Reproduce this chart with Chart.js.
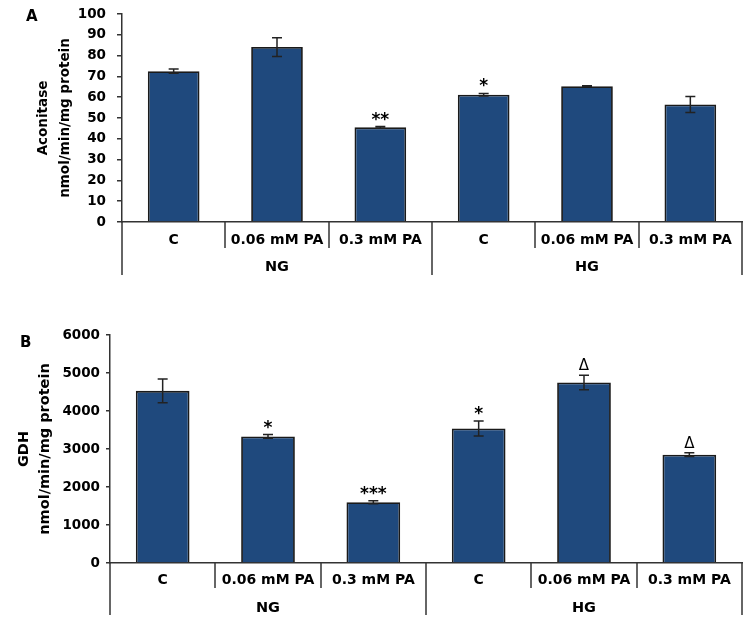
<!DOCTYPE html>
<html>
<head>
<meta charset="utf-8">
<script src="https://cdn.jsdelivr.net/npm/chart.js@4.4.1/dist/chart.umd.min.js"></script>
<style>
  body { margin: 0; background: #fff; }
  #wrap { position: relative; width: 750px; height: 626px; }
  .panel { position: absolute; left: 0; width: 750px; }
  .tag { position: absolute; font: bold 15px "DejaVu Sans"; line-height: 15px; color: #000; }
</style>
</head>
<body>
<div id="wrap">
  <div class="panel" style="top:0;height:305px"><canvas id="chartA"></canvas></div>
  <div class="panel" style="top:305px;height:321px"><canvas id="chartB"></canvas></div>
  <div class="tag" style="left:26px;top:9px">A</div>
  <div class="tag" style="left:20px;top:335px">B</div>
</div>
<script>
const categories = ["C", "0.06 mM PA", "0.3 mM PA", "C", "0.06 mM PA", "0.3 mM PA"];
const groups = ["NG", "HG"];

const aconitase = [72.5, 84.1, 45.5, 61.2, 65.3, 56.5];
const aconitaseErr = [1.0, 4.5, 0.4, 0.6, 0.2, 3.8];
const aconitaseSig = ["", "", "**", "*", "", ""];

const gdh = [4530, 3330, 1600, 3540, 4750, 2850];
const gdhErr = [310, 50, 40, 200, 190, 50];
const gdhSig = ["", "*", "***", "*", "Δ", "Δ"];

Chart.defaults.font.family = "DejaVu Sans";
Chart.defaults.color = "#000";

// dividers under the axis, group names, error bars and significance marks
const extras = {
  id: "extras",
  afterDraw(chart, args, o) {
    const { ctx, chartArea: ca, scales: { x, y } } = chart;
    const w = (x.right - x.left) / categories.length;
    ctx.save();
    ctx.strokeStyle = "#333";
    ctx.lineWidth = 1.5;
    for (let k = 0; k <= categories.length; k++) {
      const px = Math.round(x.left + k * w);
      const len = k % 3 === 0 ? o.longTick : o.shortTick;
      ctx.beginPath();
      ctx.moveTo(px, ca.bottom);
      ctx.lineTo(px, ca.bottom + len);
      ctx.stroke();
    }
    ctx.fillStyle = "#000";
    ctx.font = "bold " + o.groupSize + "px 'DejaVu Sans'";
    ctx.textAlign = "center";
    ctx.textBaseline = "middle";
    groups.forEach((g, i) => {
      ctx.fillText(g, x.getPixelForValue(i * 3 + 1), ca.bottom + o.groupOffset);
    });

    const meta = chart.getDatasetMeta(0);
    ctx.strokeStyle = "#222";
    meta.data.forEach((bar, i) => {
      const v = o.values[i], e = o.errors[i];
      const top = y.getPixelForValue(v + e);
      const bot = y.getPixelForValue(v - e);
      const cx = bar.x;
      ctx.beginPath();
      ctx.moveTo(cx, top); ctx.lineTo(cx, bot);
      ctx.moveTo(cx - 5, top); ctx.lineTo(cx + 5, top);
      ctx.moveTo(cx - 5, bot); ctx.lineTo(cx + 5, bot);
      ctx.stroke();
      const s = o.sig[i];
      if (s) {
        ctx.textBaseline = "alphabetic";
        if (s === "Δ") {
          ctx.font = "15px 'DejaVu Sans'";
          ctx.fillText(s, cx, top - 5);
        } else {
          ctx.font = "bold 17px 'DejaVu Sans'";
          ctx.fillText(s, cx, top - 2);
        }
      }
    });
    ctx.restore();
  }
};

function makeChart(id, cfg) {
  return new Chart(document.getElementById(id), {
    type: "bar",
    data: {
      labels: categories,
      datasets: [{
        data: cfg.values,
        backgroundColor: "#1F497D",
        borderColor: "#1a1a1a",
        borderWidth: 1.8,
        barPercentage: cfg.barPct,
        categoryPercentage: 1
      }]
    },
    options: {
      responsive: true,
      maintainAspectRatio: false,
      animation: false,
      layout: { padding: { left: cfg.padLeft, top: cfg.areaTop, right: 8, bottom: 0 } },
      plugins: {
        legend: { display: false },
        tooltip: { enabled: false },
        extras: {
          values: cfg.values, errors: cfg.errors, sig: cfg.sig,
          shortTick: cfg.shortTick, longTick: cfg.longTick,
          groupOffset: cfg.groupOffset, groupSize: 14.5
        }
      },
      scales: {
        x: {
          grid: { display: false, drawTicks: false },
          border: { display: true, color: "#333", width: 1.5 },
          ticks: { padding: cfg.xPad, autoSkip: false, maxRotation: 0,
                   font: { size: 14, weight: "bold" }, color: "#000" },
          afterFit: (s) => { s.height = cfg.xHeight; }
        },
        y: {
          min: 0, max: cfg.max,
          ticks: { stepSize: cfg.step, padding: cfg.yPad, callback: (v) => String(v),
                   font: { size: 13.5, weight: "bold" }, color: "#000" },
          grid: { drawOnChartArea: false, drawTicks: true, tickLength: cfg.tickLen,
                  color: "#333", lineWidth: 1.5 },
          border: { display: true, color: "#333", width: 1.5 },
          title: { display: true, text: cfg.title, color: "#000", padding: 0,
                   font: { size: cfg.titleSize, weight: "bold", lineHeight: cfg.titleLH } },
          afterFit: (s) => {
            s.width = cfg.yWidth;
            s.paddingTop = 8;
            s.paddingBottom = 8;
          }
        }
      }
    },
    plugins: [extras]
  });
}

makeChart("chartA", {
  values: aconitase, errors: aconitaseErr, sig: aconitaseSig,
  max: 100, step: 10, title: ["Aconitase", "nmol/min/mg protein"],
  titleSize: 13.5, titleLH: 1.63, padLeft: 32, yWidth: 90, areaTop: 14,
  xHeight: 83, xPad: 10, yPad: 11, tickLen: 5, barPct: 0.5,
  shortTick: 26, longTick: 53, groupOffset: 45
});

makeChart("chartB", {
  values: gdh, errors: gdhErr, sig: gdhSig,
  max: 6000, step: 1000, title: ["GDH", "nmol/min/mg protein"],
  titleSize: 14.5, titleLH: 1.45, padLeft: 14, yWidth: 96, areaTop: 30,
  xHeight: 63, xPad: 9, yPad: 6, tickLen: 4, barPct: 0.51,
  shortTick: 25, longTick: 52, groupOffset: 45
});
</script>
</body>
</html>
